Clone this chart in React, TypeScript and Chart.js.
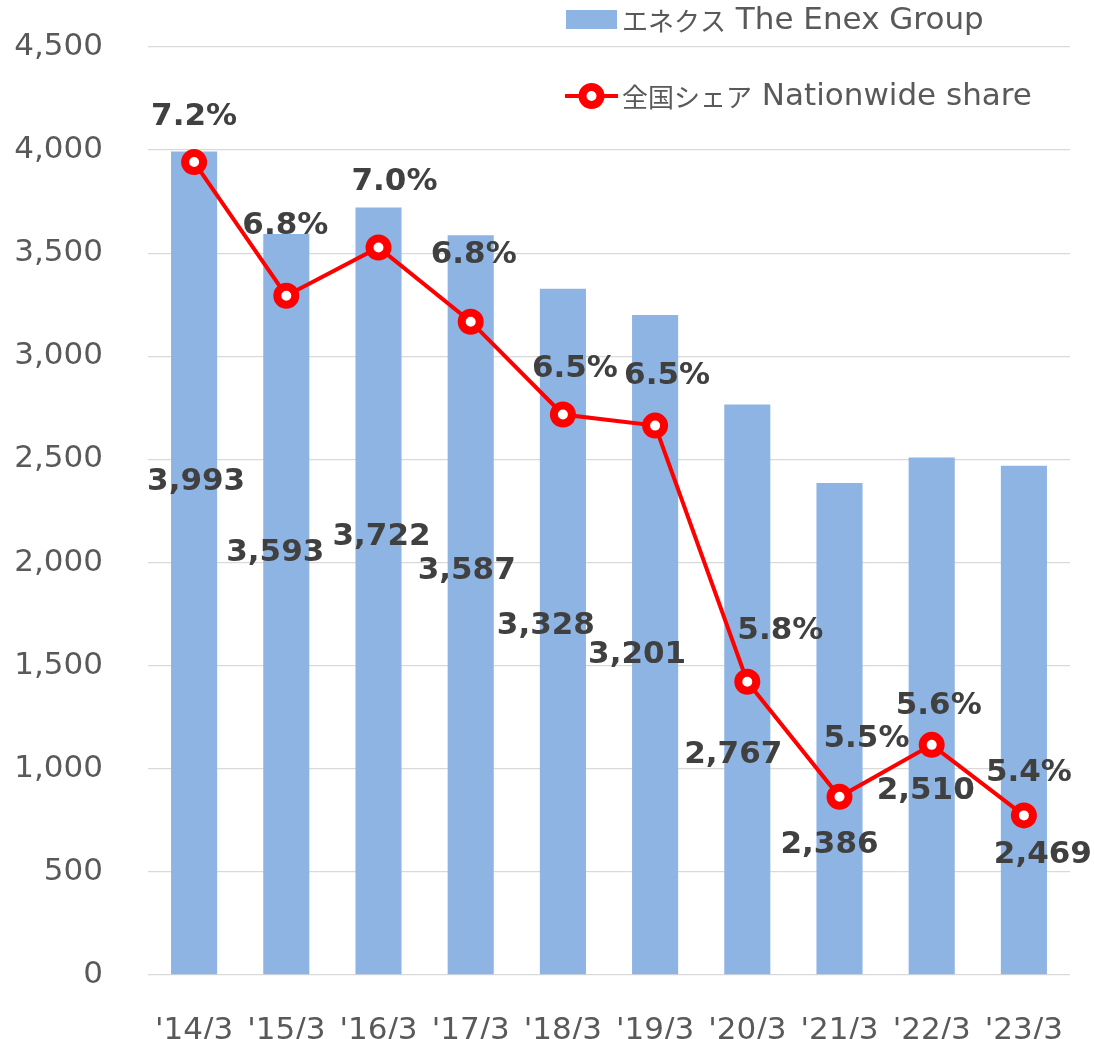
import React, { useEffect, useRef } from "react";
import { Chart, registerables } from "chart.js";

Chart.register(...registerables);

const FONT = '"DejaVu Sans", "Noto Sans CJK JP", sans-serif';
const CJK_FONT = '"Noto Sans CJK JP", "DejaVu Sans", sans-serif';

// ---- data ----
const categories = ["'14/3", "'15/3", "'16/3", "'17/3", "'18/3", "'19/3", "'20/3", "'21/3", "'22/3", "'23/3"];
const enexValues = [3993, 3593, 3722, 3587, 3328, 3201, 2767, 2386, 2510, 2469];
const shareValues = [7.19, 6.83, 6.96, 6.76, 6.51, 6.48, 5.79, 5.48, 5.62, 5.43];
const yAxisMin = 0;
const yAxisMax = 4500;
const yAxisStep = 500;
const shareAxisMin = 5.0;
const shareAxisMax = 7.5;
const barLegendParts = ["エネクス", " The Enex Group"];
const lineLegendParts = ["全国シェア", " Nationwide share"];

// ---- label placement (pixel offsets) ----
const barLabelOffsets = [[2, 330], [-11, 319], [3, 330], [-4, 336], [-17, 337], [-18, 340], [-14, 351], [-10, 362], [-6, 334], [19, 389]];
const shareLabelOffsets = [[0, -45], [-1, -70], [16, -65], [3, -67], [12, -46], [12, -50], [33, -51], [27, -58], [7, -39], [5, -42]];

const BAR_COLOR = "#8EB4E3";
const LINE_COLOR = "#FF0000";
const LABEL_COLOR = "#404040";
const TICK_COLOR = "#595959";
const GRID_COLOR = "#D9D9D9";

const labelPlugin = {
  id: "customLabels",
  afterDatasetsDraw(chart: any) {
    const ctx = chart.ctx;
    ctx.save();
    ctx.font = `bold 31px ${FONT}`;
    ctx.fillStyle = LABEL_COLOR;
    ctx.textAlign = "center";
    ctx.textBaseline = "middle";
    const barMeta = chart.getDatasetMeta(0);
    barMeta.data.forEach((el: any, i: number) => {
      const [dx, dy] = barLabelOffsets[i];
      ctx.fillText(enexValues[i].toLocaleString("en-US"), el.x + dx, el.y + dy);
    });
    const lineMeta = chart.getDatasetMeta(1);
    lineMeta.data.forEach((el: any, i: number) => {
      const [dx, dy] = shareLabelOffsets[i];
      ctx.fillText(shareValues[i].toFixed(1) + "%", el.x + dx, el.y + dy);
    });
    ctx.restore();
  },
  afterDraw(chart: any) {
    const ctx = chart.ctx;
    ctx.save();
    const drawText = (parts: string[], x: number, y: number) => {
      ctx.fillStyle = TICK_COLOR;
      ctx.textAlign = "left";
      ctx.textBaseline = "middle";
      ctx.font = `26px ${CJK_FONT}`;
      ctx.fillText(parts[0], x, y);
      const w = ctx.measureText(parts[0]).width;
      ctx.font = `31px ${FONT}`;
      ctx.fillText(parts[1], x + w, y);
    };
    // bar legend
    ctx.fillStyle = BAR_COLOR;
    ctx.fillRect(566, 10, 51, 19);
    drawText(barLegendParts, 622, 21);
    // line legend
    ctx.strokeStyle = LINE_COLOR;
    ctx.lineWidth = 4;
    ctx.beginPath();
    ctx.moveTo(565, 96);
    ctx.lineTo(618, 96);
    ctx.stroke();
    ctx.beginPath();
    ctx.arc(591.5, 96, 9, 0, Math.PI * 2);
    ctx.fillStyle = "#FFFFFF";
    ctx.fill();
    ctx.lineWidth = 8;
    ctx.stroke();
    drawText(lineLegendParts, 622, 97);
    ctx.restore();
  },
};

export default function App() {
  const ref = useRef<HTMLCanvasElement | null>(null);
  useEffect(() => {
    if (!ref.current) return;
    const chart = new Chart(ref.current, {
      type: "bar",
      data: {
        labels: categories,
        datasets: [
          {
            type: "bar",
            label: barLegendParts.join(""),
            data: enexValues,
            backgroundColor: BAR_COLOR,
            borderWidth: 0,
            barPercentage: 0.5,
            categoryPercentage: 1.0,
            yAxisID: "y",
            order: 1,
          },
          {
            type: "line",
            label: lineLegendParts.join(""),
            data: shareValues,
            borderColor: LINE_COLOR,
            borderWidth: 4,
            pointRadius: 9,
            pointBorderWidth: 8,
            pointBackgroundColor: "#FFFFFF",
            pointBorderColor: LINE_COLOR,
            tension: 0,
            yAxisID: "y1",
            order: 0,
          } as any,
        ],
      },
      options: {
        animation: false,
        responsive: false,
        maintainAspectRatio: false,
        layout: { padding: { top: 47, right: 24, bottom: 0, left: 0 } },
        plugins: {
          legend: { display: false },
          tooltip: { enabled: false },
        },
        scales: {
          x: {
            grid: { display: false },
            border: { display: false },
            ticks: { color: TICK_COLOR, font: { family: FONT, size: 31 }, padding: 29, maxRotation: 0, autoSkip: false },
            afterFit(scale: any) {
              scale.height = 64;
              scale.paddingLeft = 0;
              scale.paddingRight = 0;
            },
          },
          y: {
            min: yAxisMin,
            max: yAxisMax,
            grid: { color: GRID_COLOR, lineWidth: 1.3, drawTicks: false },
            border: { display: false },
            ticks: {
              stepSize: yAxisStep,
              color: TICK_COLOR,
              font: { family: FONT, size: 31 },
              padding: 45,
              callback: (v: any) => Number(v).toLocaleString("en-US"),
            },
            afterFit(scale: any) {
              scale.width = 148;
              scale.paddingTop = 0;
              scale.paddingBottom = 0;
            },
          },
          y1: {
            min: shareAxisMin,
            max: shareAxisMax,
            display: false,
            position: "right",
            grid: { display: false },
          },
        },
      },
      plugins: [labelPlugin],
    });
    return () => chart.destroy();
  }, []);
  return (
    <div style={{ position: "fixed", left: 0, top: 0, width: 1094, height: 1039, background: "#fff" }}>
      <canvas ref={ref} width={1094} height={1039} style={{ display: "block" }} />
    </div>
  );
}
